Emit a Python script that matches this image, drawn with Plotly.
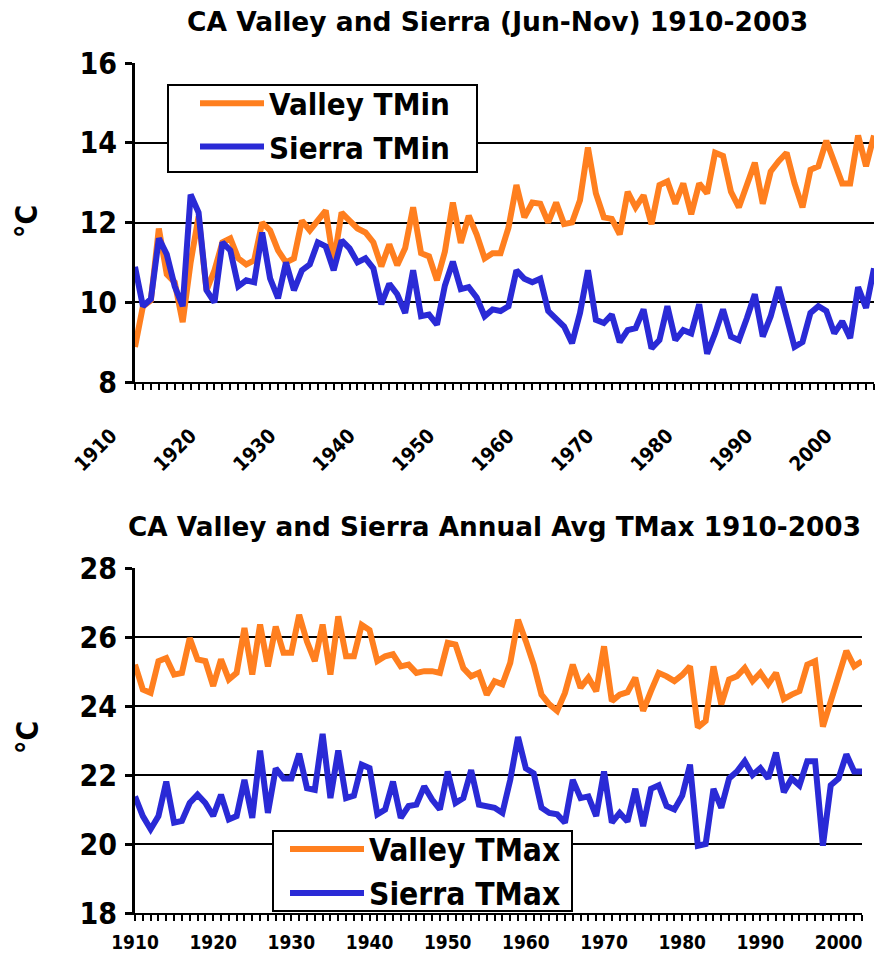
import plotly.graph_objects as go

years = list(range(1910, 2004))

valley_tmin = [
    8.88, 9.9, 10.05, 11.85, 10.7, 10.5, 9.5, 11.0, 12.15, 10.3,
    10.8, 11.5, 11.6, 11.1, 10.95, 11.05, 12.0, 11.8, 11.3, 11.0,
    11.1, 12.05, 11.8, 12.05, 12.3, 11.0, 12.25, 12.05, 11.85, 11.75,
    11.5, 10.9, 11.45, 10.93, 11.36, 12.38, 11.23, 11.15, 10.55, 11.27,
    12.5, 11.49, 12.17, 11.7, 11.1, 11.23, 11.23, 11.87, 12.94, 12.13,
    12.5, 12.47, 12.0, 12.5, 11.96, 12.0, 12.56, 13.88, 12.73, 12.13,
    12.09, 11.7, 12.77, 12.38, 12.68, 11.96, 12.94, 13.03, 12.47, 12.98,
    12.21, 12.98, 12.73, 13.75, 13.67, 12.77, 12.38, 12.94, 13.5, 12.47,
    13.28, 13.54, 13.75, 12.98, 12.38, 13.32, 13.41, 14.05, 13.54, 12.98,
    12.98, 14.18, 13.41, 14.18,
]

sierra_tmin = [
    10.89, 9.9, 10.08, 11.6, 11.2, 10.4, 9.9, 12.7, 12.25, 10.3,
    10.0, 11.5, 11.3, 10.4, 10.55, 10.5, 11.75, 10.6, 10.1, 11.0,
    10.3, 10.8, 10.95, 11.5, 11.4, 10.8, 11.55, 11.35, 11.0, 11.1,
    10.85, 9.95, 10.46, 10.2, 9.73, 10.8, 9.65, 9.69, 9.44, 10.42,
    11.02, 10.33, 10.38, 10.12, 9.65, 9.82, 9.78, 9.9, 10.8, 10.59,
    10.5, 10.59, 9.78, 9.56, 9.39, 8.97, 9.73, 10.8, 9.56, 9.48,
    9.69, 9.0, 9.3, 9.35, 9.82, 8.84, 9.05, 9.9, 9.05, 9.3,
    9.22, 9.95, 8.71, 9.22, 9.82, 9.14, 9.05, 9.6, 10.2, 9.14,
    9.65, 10.38, 9.6, 8.88, 9.0, 9.73, 9.9, 9.78, 9.22, 9.52,
    9.1, 10.38, 9.86, 10.85,
]

valley_tmax = [
    25.2, 24.48, 24.38, 25.3, 25.39, 24.91, 24.96, 25.97, 25.35, 25.3,
    24.58, 25.35, 24.77, 24.96, 26.26, 24.91, 26.36, 25.15, 26.3, 25.54,
    25.54, 26.64, 25.87, 25.3, 26.36, 24.91, 26.6, 25.44, 25.44, 26.35,
    26.2, 25.3, 25.44, 25.5, 25.15, 25.2, 24.96, 25.01, 25.01, 24.96,
    25.83, 25.78, 25.1, 24.86, 24.96, 24.33, 24.72, 24.63, 25.25, 26.5,
    25.88, 25.2, 24.33, 24.05, 23.86, 24.38, 25.2, 24.53, 24.82, 24.43,
    25.73, 24.14, 24.33, 24.4, 24.82, 23.86, 24.43, 24.96, 24.86, 24.72,
    24.9, 25.15, 23.38, 23.57, 25.15, 24.05, 24.77, 24.86, 25.1, 24.72,
    24.96, 24.63, 24.96, 24.2, 24.33, 24.43, 25.2, 25.3, 23.4, 24.1,
    24.82, 25.6, 25.15, 25.3,
]

sierra_tmax = [
    21.38, 20.81, 20.43, 20.81, 21.81, 20.62, 20.67, 21.19, 21.43, 21.19,
    20.81, 21.43, 20.71, 20.81, 21.86, 20.76, 22.71, 20.9, 22.19, 21.9,
    21.9, 22.62, 21.62, 21.57, 23.19, 21.33, 22.71, 21.33, 21.4, 22.3,
    22.2, 20.86, 21.0, 21.81, 20.76, 21.1, 21.14, 21.67, 21.29, 21.0,
    22.1, 21.19, 21.33, 22.14, 21.14, 21.1, 21.05, 20.9, 21.86, 23.1,
    22.19, 22.05, 21.05, 20.9, 20.86, 20.62, 21.86, 21.33, 21.38, 20.81,
    22.1, 20.62, 20.9, 20.65, 21.6, 20.52, 21.6, 21.7, 21.1, 21.0,
    21.4, 22.3, 19.95, 20.0, 21.6, 21.05, 21.9, 22.1, 22.4, 22.0,
    22.2, 21.9, 22.65, 21.5, 21.9, 21.7, 22.4, 22.4, 19.95, 21.7,
    21.9, 22.6, 22.1, 22.1,
]

top_title = "CA Valley and Sierra (Jun-Nov) 1910-2003"
bottom_title = "CA Valley and Sierra Annual Avg TMax 1910-2003"
y_title = "°C"
xticks = list(range(1910, 2001, 10))

ORANGE = "#FF7F1F"
BLUE = "#2A2AD6"
FONT = "DejaVu Sans Condensed, DejaVu Sans"
TFONT = "DejaVu Sans"
W, H = 876, 956

fig = go.Figure()
fig.add_trace(go.Scatter(x=years, y=valley_tmin, mode="lines", name="Valley TMin",
                         line=dict(color=ORANGE, width=6), xaxis="x", yaxis="y", legend="legend"))
fig.add_trace(go.Scatter(x=years, y=sierra_tmin, mode="lines", name="Sierra TMin",
                         line=dict(color=BLUE, width=6), xaxis="x", yaxis="y", legend="legend"))
fig.add_trace(go.Scatter(x=years, y=valley_tmax, mode="lines", name="Valley TMax",
                         line=dict(color=ORANGE, width=6), xaxis="x2", yaxis="y2", legend="legend2"))
fig.add_trace(go.Scatter(x=years, y=sierra_tmax, mode="lines", name="Sierra TMax",
                         line=dict(color=BLUE, width=6), xaxis="x2", yaxis="y2", legend="legend2"))

def px_x(p):
    return p / W

def px_y(p):
    return 1 - p / H

tickfont = dict(family=FONT, size=20, color="black", weight="bold")
btickfont = dict(family=FONT, size=19, color="black", weight="bold")
ytickfont = dict(family=FONT, size=30, color="black", weight="bold")

common_x = dict(range=[1910, 2003], tickvals=xticks, ticks="outside", ticklen=6, tickwidth=1.5,
                tickcolor="black", showline=True, linecolor="black", linewidth=2,
                showgrid=False, zeroline=False, automargin=False,
                minor=dict(dtick=1, ticks="outside", ticklen=6, tickwidth=1.5, tickcolor="black"))
common_y = dict(dtick=2, ticks="outside", ticklen=7, tickwidth=3, tickcolor="black",
                showline=True, linecolor="black", linewidth=3, showgrid=True,
                gridcolor="black", gridwidth=2, zeroline=False, tickfont=ytickfont,
                automargin=False, ticklabelstandoff=2)

legend_font_top = dict(family=FONT, size=31, color="black", weight="bold")
legend_font_bot = dict(family=FONT, size=31.5, color="black", weight="bold")

fig.update_layout(
    width=W, height=H, margin=dict(l=0, r=0, t=0, b=0, autoexpand=False),
    paper_bgcolor="white", plot_bgcolor="white",
    xaxis=dict(common_x, domain=[px_x(135), px_x(874)], anchor="y", tickangle=-45,
               tickfont=tickfont, ticklabelstandoff=26, ticklabelshift=-24),
    yaxis=dict(common_y, domain=[px_y(382), px_y(63)], range=[8, 16], anchor="x"),
    xaxis2=dict(common_x, domain=[px_x(135), px_x(862)], anchor="y2",
                tickfont=btickfont, ticklabelstandoff=5),
    yaxis2=dict(common_y, domain=[px_y(913), px_y(568)], range=[18, 28], anchor="x2"),
    legend=dict(x=px_x(195), y=px_y(125), xanchor="left", yanchor="middle",
                bgcolor="rgba(0,0,0,0)", borderwidth=0, itemwidth=64,
                font=legend_font_top),
    legend2=dict(x=px_x(285), y=px_y(871), xanchor="left", yanchor="middle",
                 bgcolor="rgba(0,0,0,0)", borderwidth=0, itemwidth=74,
                 font=legend_font_bot),
    showlegend=True,
    shapes=[
        dict(type="rect", xref="paper", yref="paper", layer="above",
             x0=px_x(168), x1=px_x(477), y0=px_y(172), y1=px_y(85),
             fillcolor="white", line=dict(color="black", width=2)),
        dict(type="rect", xref="paper", yref="paper", layer="above",
             x0=px_x(273), x1=px_x(572), y0=px_y(911), y1=px_y(831),
             fillcolor="white", line=dict(color="black", width=2)),
    ],
    annotations=[
        dict(text=top_title, x=px_x(497), y=px_y(22), xref="paper", yref="paper",
             showarrow=False, xanchor="center", yanchor="middle",
             font=dict(family=TFONT, size=26.5, color="black", weight="bold")),
        dict(text=bottom_title, x=px_x(494), y=px_y(527), xref="paper", yref="paper",
             showarrow=False, xanchor="center", yanchor="middle",
             font=dict(family=TFONT, size=26.3, color="black", weight="bold")),
        dict(text=y_title, x=px_x(27), y=px_y(222), xref="paper", yref="paper",
             showarrow=False, xanchor="center", yanchor="middle", textangle=-90,
             font=dict(family=FONT, size=30, color="black", weight="bold")),
        dict(text=y_title, x=px_x(27), y=px_y(738), xref="paper", yref="paper",
             showarrow=False, xanchor="center", yanchor="middle", textangle=-90,
             font=dict(family=FONT, size=30, color="black", weight="bold")),
    ],
)

fig.write_html("out.html", config={"displayModeBar": False},
               post_script="document.body.style.margin='0px';document.body.style.overflow='hidden';")
